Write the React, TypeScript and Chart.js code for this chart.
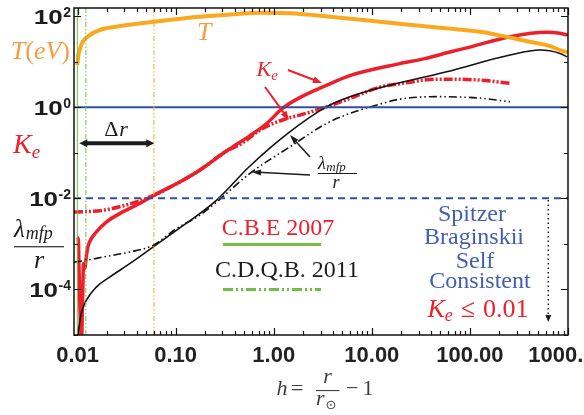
import React, { useEffect, useRef } from "react";
import { Chart, registerables } from "chart.js";

Chart.register(...registerables);

// ---------- data ----------
const X_TICKS = [0.01, 0.1, 1, 10, 100, 1000];
const X_TICK_LABELS = ["0.01", "0.10", "1.00", "10.00", "100.00", "1000.00"];
const Y_TICK_EXPONENTS = [2, 0, -2, -4];

// Temperature T (eV)
const tempH = [0.00995, 0.0102, 0.0105, 0.0113, 0.0133, 0.0168, 0.0248, 0.061, 0.176, 0.304, 0.78, 1.46, 3.73, 12.1, 49.4, 126.5, 409.5, 655, 828, 1000];
const tempT = [8.4, 13.9, 17.9, 27.2, 38.2, 49.3, 58.2, 75, 96.5, 105, 118, 114.6, 96.5, 74.9, 55.3, 45.2, 27.2, 21.9, 17.9, 15.9];

// K_e, C.B.E 2007
const keCbeH = [0.00995, 0.0102, 0.01036, 0.0106, 0.01099, 0.01125, 0.01151, 0.01187, 0.01227, 0.01265, 0.01326, 0.01552, 0.01963, 0.02683, 0.0397, 0.0601, 0.1187, 0.1757, 0.316, 0.3816, 0.569, 0.842, 1.236, 1.842, 3.474, 5.965, 19.31, 34.7, 62.5, 100, 255.9, 610.6, 828, 1000];
const keCbeV = [0.00141, 0.00119, 0.000262, 0.0000346, 0.0000076, 0.0000573, 0.000373, 0.000289, 0.000513, 0.000796, 0.0011, 0.00182, 0.00301, 0.00461, 0.00702, 0.01164, 0.0249, 0.0412, 0.1026, 0.134, 0.235, 0.433, 0.95, 1.618, 3.04, 4.92, 9.03, 11.6, 16.2, 20.8, 35.1, 43.8, 41.7, 38.2];

// K_e, C.D.Q.B. 2011
const keCdqbH = [0.0092, 0.01812, 0.0397, 0.0543, 0.0601, 0.1187, 0.1757, 0.316, 0.4828, 0.7197, 1.357, 1.842, 3.45, 5.965, 12.07, 19.31, 49.4, 126.5, 255.9];
const keCdqbV = [0.005, 0.00545, 0.0083, 0.01069, 0.01164, 0.0249, 0.0412, 0.1026, 0.165, 0.312, 0.564, 0.667, 1.015, 1.553, 2.75, 3.28, 4.12, 3.92, 3.32];

// lambda_mfp / r, C.B.E 2007
const lamCbeH = [0.0100, 0.0109, 0.01227, 0.01552, 0.0212, 0.03394, 0.0587, 0.1017, 0.2602, 0.569, 1.456, 3.45, 5.965, 12.07, 57.8, 255.9, 518, 828, 977];
const lamCbeV = [0.0000095, 0.0000297, 0.0000573, 0.0001124, 0.000186, 0.000367, 0.000851, 0.00198, 0.00903, 0.0505, 0.2864, 1.015, 1.685, 2.66, 5.97, 13.9, 17.9, 15.1, 12.75];

// lambda_mfp / r, C.D.Q.B. 2011
const lamCdqbH = [0.0092, 0.01227, 0.01812, 0.03394, 0.0587, 0.1017, 0.1757, 0.2602, 0.569, 1.456, 3.45, 5.965, 12.07, 19.31, 46.05, 126.5, 255.9];
const lamCdqbV = [0.000398, 0.000434, 0.000513, 0.000661, 0.000927, 0.002158, 0.00423, 0.00817, 0.0349, 0.134, 0.438, 0.727, 1.164, 1.5, 1.7, 1.578, 1.31];

// reference lines
const REF_H = [0.00995, 0.01215, 0.0601]; // green solid, green dash-dot, orange dash-dot
const REF_LEVELS = [1, 0.01]; // blue solid, blue dashed

const X_MIN = 0.0092;
const X_MAX = 1000;
const Y_MIN = 1e-5;
const Y_MAX = 150;

// ---------- styles ----------
const SANS = '"Liberation Sans", Arial, sans-serif';
const SERIF = '"Liberation Serif", "Times New Roman", serif';
const RED = "rgb(236,32,42)";
const ORANGE = "rgb(250,168,32)";
const ORANGE_TXT = "rgb(246,156,72)";
const BLUE = "rgb(48,78,162)";
const BLUE_TXT = "rgb(66,94,178)";
const GREEN = "rgb(112,190,68)";
const INK = "#1c1c1c";

function pts(xs: number[], ys: number[]) {
  return xs.map((x, i) => ({ x, y: ys[i] }));
}

type Seg = { t: string; f: string; dy?: number; gap?: number };

function rich(ctx: CanvasRenderingContext2D, segs: Seg[], x: number, y: number, align: string, color: string) {
  ctx.fillStyle = color;
  ctx.textAlign = "left";
  ctx.textBaseline = "alphabetic";
  let w = 0;
  for (const s of segs) {
    ctx.font = s.f;
    w += ctx.measureText(s.t).width + (s.gap || 0);
  }
  let cx = align === "left" ? x : align === "center" ? x - w / 2 : x - w;
  for (const s of segs) {
    ctx.font = s.f;
    cx += s.gap || 0;
    ctx.fillText(s.t, cx, y + (s.dy || 0));
    cx += ctx.measureText(s.t).width;
  }
}

function arrowHead(ctx: CanvasRenderingContext2D, x1: number, y1: number, x2: number, y2: number, len: number, wid: number) {
  const a = Math.atan2(y2 - y1, x2 - x1);
  const c = Math.cos(a), s = Math.sin(a);
  ctx.beginPath();
  ctx.moveTo(x2, y2);
  ctx.lineTo(x2 - c * len + s * wid / 2, y2 - s * len - c * wid / 2);
  ctx.lineTo(x2 - c * len - s * wid / 2, y2 - s * len + c * wid / 2);
  ctx.closePath();
  ctx.fill();
}

function arrow(ctx: CanvasRenderingContext2D, x1: number, y1: number, x2: number, y2: number, color: string, lw: number, len: number, wid: number, dash?: number[]) {
  const a = Math.atan2(y2 - y1, x2 - x1);
  ctx.strokeStyle = color;
  ctx.fillStyle = color;
  ctx.lineWidth = lw;
  ctx.setLineDash(dash || []);
  ctx.beginPath();
  ctx.moveTo(x1, y1);
  ctx.lineTo(x2 - Math.cos(a) * len * 0.7, y2 - Math.sin(a) * len * 0.7);
  ctx.stroke();
  ctx.setLineDash([]);
  arrowHead(ctx, x1, y1, x2, y2, len, wid);
}

const decorations = {
  id: "decorations",
  afterDraw(chart: any) {
    const ctx: CanvasRenderingContext2D = chart.ctx;
    const { left, right, top, bottom } = chart.chartArea;
    const xs = chart.scales.x;
    const ys = chart.scales.y;
    ctx.save();

    // frame
    ctx.strokeStyle = "#111";
    ctx.lineWidth = 1.5;
    ctx.setLineDash([]);
    ctx.strokeRect(left, top, right - left, bottom - top);

    // x ticks (top & bottom)
    ctx.lineWidth = 1.2;
    for (let e = -3; e <= 3; e++) {
      for (let k = 1; k <= 9; k++) {
        const v = k * Math.pow(10, e);
        if (v < X_MIN || v > X_MAX) continue;
        const px = Math.round(xs.getPixelForValue(v)) + 0.5;
        const L = k === 1 ? 7 : 4;
        ctx.beginPath();
        ctx.moveTo(px, bottom);
        ctx.lineTo(px, bottom - L);
        ctx.moveTo(px, top);
        ctx.lineTo(px, top + L);
        ctx.stroke();
      }
    }
    // y ticks (left & right)
    for (let e = -5; e <= 2; e++) {
      const py = Math.round(ys.getPixelForValue(Math.pow(10, e))) + 0.5;
      const L = e % 2 === 0 ? 7 : 4;
      ctx.beginPath();
      ctx.moveTo(left, py);
      ctx.lineTo(left + L, py);
      ctx.moveTo(right, py);
      ctx.lineTo(right - L, py);
      ctx.stroke();
    }

    // y tick labels 10^n
    ctx.fillStyle = INK;
    ctx.textBaseline = "alphabetic";
    ctx.textAlign = "left";
    for (const e of Y_TICK_EXPONENTS) {
      const py = ys.getPixelForValue(Math.pow(10, e));
      const sup = e < 0 ? "-" + Math.abs(e) : String(e);
      ctx.font = `bold 14px ${SANS}`;
      const sw = ctx.measureText(sup).width;
      const rx = 71;
      ctx.fillText(sup, rx - sw, py + 1);
      ctx.font = `bold 20px ${SANS}`;
      const bw = ctx.measureText("10").width * 1.3;
      ctx.save();
      ctx.translate(rx - sw - bw - 0.5, py + 7.5);
      ctx.scale(1.3, 1);
      ctx.fillText("10", 0, 0);
      ctx.restore();
    }

    // left side labels
    const I = (s: number) => `italic ${s}px ${SERIF}`;
    const U = (s: number) => `${s}px ${SERIF}`;
    rich(ctx, [
      { t: "T", f: I(26) }, { t: "(", f: U(26) }, { t: "e", f: I(26) }, { t: "V", f: I(26) }, { t: ")", f: U(26) },
    ], 70, 58.5, "right", ORANGE_TXT);
    rich(ctx, [{ t: "K", f: I(28) }, { t: "e", f: I(19), dy: 5 }], 13, 153, "left", RED);
    rich(ctx, [{ t: "λ", f: I(25) }, { t: "mfp", f: I(18), dy: 2, gap: 1 }], 14, 237, "left", INK);
    ctx.fillStyle = INK;
    ctx.fillRect(14, 246.2, 50, 1.1);
    rich(ctx, [{ t: "r", f: I(26) }], 39, 267.5, "center", INK);

    // Δr double arrow
    ctx.fillStyle = INK;
    ctx.strokeStyle = INK;
    ctx.lineWidth = 4;
    ctx.beginPath();
    ctx.moveTo(84, 143.3);
    ctx.lineTo(149, 143.3);
    ctx.stroke();
    arrowHead(ctx, 150, 143.3, 79.3, 143.3, 8, 8);
    arrowHead(ctx, 80, 143.3, 154.3, 143.3, 8, 8);
    rich(ctx, [{ t: "Δ", f: U(22) }, { t: "r", f: I(22), gap: 1 }], 116, 135.5, "center", INK);

    // T label in plot
    rich(ctx, [{ t: "T", f: I(26) }], 197, 40, "left", ORANGE_TXT);

    // K_e label and arrows
    rich(ctx, [{ t: "K", f: I(22) }, { t: "e", f: I(15), dy: 4 }], 256.5, 76, "left", RED);
    arrow(ctx, 288, 70, 322, 83, RED, 2, 9, 7);
    arrow(ctx, 265, 87, 289, 120, RED, 2, 9, 7);

    // lambda label and arrows
    rich(ctx, [{ t: "λ", f: I(18) }, { t: "mfp", f: I(13), dy: 2.5, gap: 0.5 }], 318, 168.5, "left", INK);
    ctx.fillStyle = INK;
    ctx.fillRect(318, 173, 39, 1);
    rich(ctx, [{ t: "r", f: I(18) }], 336, 187.5, "center", INK);
    arrow(ctx, 310, 157, 290, 135, INK, 1.5, 9, 6);
    arrow(ctx, 310, 175, 252, 172, INK, 1.5, 9, 6);

    // legend-like labels
    rich(ctx, [{ t: "C.B.E 2007", f: U(24) }], 278, 235, "center", RED);
    ctx.strokeStyle = GREEN;
    ctx.lineWidth = 3;
    ctx.setLineDash([]);
    ctx.beginPath();
    ctx.moveTo(223, 244.5);
    ctx.lineTo(321, 244.5);
    ctx.stroke();
    rich(ctx, [{ t: "C.D.Q.B. 2011", f: U(24) }], 287, 276.5, "center", INK);
    ctx.setLineDash([10, 3, 2, 3, 2, 3]);
    ctx.beginPath();
    ctx.moveTo(223, 289.5);
    ctx.lineTo(321, 289.5);
    ctx.stroke();
    ctx.setLineDash([]);

    // blue block
    rich(ctx, [{ t: "Spitzer", f: U(24) }], 472, 221, "center", BLUE_TXT);
    rich(ctx, [{ t: "Braginskii", f: U(24) }], 474, 243.5, "center", BLUE_TXT);
    rich(ctx, [{ t: "Self", f: U(24) }], 475, 267.5, "center", BLUE_TXT);
    rich(ctx, [{ t: "Consistent", f: U(24) }], 480, 288, "center", BLUE_TXT);
    rich(ctx, [
      { t: "K", f: I(26) }, { t: "e", f: I(18), dy: 4 }, { t: "≤", f: U(26), gap: 8 }, { t: "0.01", f: U(26), gap: 8 },
    ], 478, 316.5, "center", RED);

    // dotted arrow
    arrow(ctx, 548.3, 200, 548.3, 322, INK, 1.5, 7, 6, [1.5, 3]);

    // x-axis title h = r / r_sun - 1
    const tc = "rgb(62,62,62)";
    rich(ctx, [{ t: "h", f: I(22) }], 276.5, 395, "left", tc);
    rich(ctx, [{ t: "=", f: U(22) }], 291, 395, "left", tc);
    rich(ctx, [{ t: "r", f: I(22) }], 327.5, 383, "center", tc);
    ctx.fillStyle = tc;
    ctx.fillRect(316, 390, 23.5, 1.1);
    rich(ctx, [{ t: "r", f: I(22) }, { t: "⊙", f: `13px "DejaVu Sans", sans-serif`, dy: 4, gap: 1 }], 316, 404.5, "left", tc);
    rich(ctx, [{ t: "−", f: U(22) }], 346, 395, "left", tc);
    rich(ctx, [{ t: "1", f: U(22) }], 362.5, 395, "left", tc);

    ctx.restore();
  },
};

export default function App() {
  const ref = useRef<HTMLCanvasElement | null>(null);
  useEffect(() => {
    document.body.style.margin = "0";
    const canvas = ref.current;
    if (!canvas) return;

    const datasets: any[] = [
      {
        label: "r = r_sun",
        data: [{ x: REF_H[0], y: Y_MIN }, { x: REF_H[0], y: Y_MAX }],
        borderColor: GREEN, borderWidth: 1, pointRadius: 0,
      },
      {
        label: "green dash-dot",
        data: [{ x: REF_H[1], y: Y_MIN }, { x: REF_H[1], y: Y_MAX }],
        borderColor: GREEN, borderWidth: 1, borderDash: [5, 2, 1.5, 2, 1.5, 2], pointRadius: 0,
      },
      {
        label: "orange dash-dot",
        data: [{ x: REF_H[2], y: Y_MIN }, { x: REF_H[2], y: Y_MAX }],
        borderColor: ORANGE, borderWidth: 1, borderDash: [5, 2, 1.5, 2, 1.5, 2], pointRadius: 0,
      },
      {
        label: "Ke = 1",
        data: [{ x: X_MIN, y: REF_LEVELS[0] }, { x: X_MAX, y: REF_LEVELS[0] }],
        borderColor: BLUE, borderWidth: 2, pointRadius: 0,
      },
      {
        label: "Ke = 0.01",
        data: [{ x: X_MIN, y: REF_LEVELS[1] }, { x: X_MAX, y: REF_LEVELS[1] }],
        borderColor: BLUE, borderWidth: 2, borderDash: [7, 5], pointRadius: 0,
      },
      {
        label: "T",
        data: pts(tempH, tempT),
        borderColor: ORANGE, borderWidth: 4, pointRadius: 0, cubicInterpolationMode: "monotone",
      },
      {
        label: "lambda/r CBE",
        data: pts(lamCbeH, lamCbeV),
        borderColor: "#111", borderWidth: 1.6, pointRadius: 0, cubicInterpolationMode: "monotone",
      },
      {
        label: "lambda/r CDQB",
        data: pts(lamCdqbH, lamCdqbV),
        borderColor: "#111", borderWidth: 1.6, borderDash: [8, 3, 1.5, 3, 1.5, 3], pointRadius: 0, cubicInterpolationMode: "monotone",
      },
      {
        label: "Ke CDQB",
        data: pts(keCdqbH, keCdqbV),
        borderColor: RED, borderWidth: 3.5, borderDash: [9, 2, 2, 2, 2, 2], pointRadius: 0, cubicInterpolationMode: "monotone",
      },
      {
        label: "Ke CBE",
        data: pts(keCbeH, keCbeV),
        borderColor: RED, borderWidth: 3.5, pointRadius: 0, cubicInterpolationMode: "monotone",
      },
    ];

    const chart = new Chart(canvas, {
      type: "line",
      data: { datasets },
      plugins: [decorations],
      options: {
        animation: false,
        responsive: false,
        events: [],
        layout: { autoPadding: false, padding: { top: 8, right: 16, left: 0, bottom: 0 } },
        plugins: { legend: { display: false }, tooltip: { enabled: false } },
        scales: {
          x: {
            type: "logarithmic",
            min: X_MIN,
            max: X_MAX,
            grid: { display: false, drawTicks: false },
            border: { display: false },
            afterFit: (s: any) => {
              s.height = 80;
              s.paddingLeft = 0;
              s.paddingRight = 0;
            },
            ticks: {
              autoSkip: false,
              maxRotation: 0,
              padding: 8,
              color: "#222",
              font: { family: SANS, weight: "bold", size: 22 },
              callback: (v: any) => {
                const val = Number(v);
                const i = X_TICKS.findIndex((t) => Math.abs(Math.log10(val) - Math.log10(t)) < 1e-6);
                return i >= 0 ? X_TICK_LABELS[i] : "";
              },
            },
          },
          y: {
            type: "logarithmic",
            min: Y_MIN,
            max: Y_MAX,
            grid: { display: false, drawTicks: false },
            border: { display: false },
            afterFit: (s: any) => {
              s.width = 74;
              s.paddingTop = 0;
              s.paddingBottom = 0;
            },
            ticks: { display: false },
          },
        },
      } as any,
    });
    return () => chart.destroy();
  }, []);

  return (
    <div style={{ width: 584, height: 415 }}>
      <canvas ref={ref} width={584} height={415} />
    </div>
  );
}
